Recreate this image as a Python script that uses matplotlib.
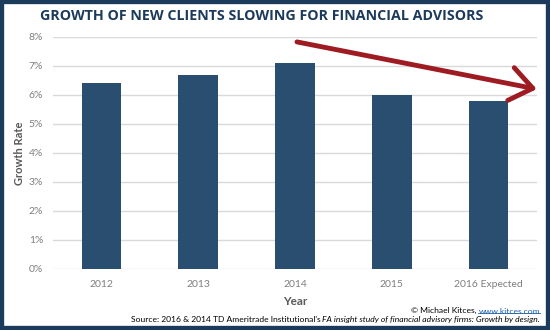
import matplotlib
matplotlib.use("Agg")
import matplotlib.pyplot as plt
from matplotlib.patches import Rectangle
from matplotlib.ticker import PercentFormatter

years = ["2012", "2013", "2014", "2015", "2016 Expected"]
growth = [6.4, 6.7, 7.1, 6.0, 5.8]
yticks = [0, 1, 2, 3, 4, 5, 6, 7, 8]

NAVY = "#1b3a5c"
BAR = "#2a4e70"
GRAY = "#7f7f7f"
RED = "#9e1b22"

plt.rcParams['font.family'] = ['Lato', 'DejaVu Sans']

fig = plt.figure(figsize=(5.5, 3.3), dpi=100)
ax = fig.add_axes([0.0964, 0.185, 0.880, 0.703])

x = list(range(len(years)))
ax.bar(x, growth, width=0.41, color=BAR, zorder=3)
ax.set_xlim(-0.5, len(years) - 0.5)
ax.set_ylim(0, 8)
ax.set_yticks(yticks)
ax.yaxis.set_major_formatter(PercentFormatter(decimals=0))
ax.set_xticks(x)
ax.set_xticklabels(years)
ax.tick_params(axis='both', length=0, labelsize=7.5, labelcolor=GRAY)
ax.tick_params(axis='x', pad=8)
ax.tick_params(axis='y', pad=7)
ax.grid(axis='y', color="#d9d9d9", lw=1, zorder=0)
for s in ax.spines.values():
    s.set_visible(False)

ax.set_ylabel("Growth Rate", fontsize=8, fontweight='bold', color="#595959", labelpad=3)
ax.set_xlabel("Year", fontsize=8.5, fontweight='bold', color="#595959", labelpad=5)

fig.text(0.475, 0.952, "GROWTH OF NEW CLIENTS SLOWING FOR FINANCIAL ADVISORS",
         ha='center', va='center', fontsize=10.3, fontweight='bold',
         color=NAVY, family=['Open Sans', 'DejaVu Sans'])

# trend arrow
ax.annotate("", xy=(0.976, 0.730), xycoords='figure fraction',
            xytext=(0.54, 0.873), textcoords='figure fraction',
            arrowprops=dict(arrowstyle="->, head_length=0.8, head_width=0.6",
                            mutation_scale=20, color=RED, lw=3.5,
                            shrinkA=0, shrinkB=0))

# credit lines, right aligned, built from right to left
c2 = fig.text(0.982, 0.024, "FA insight study of financial advisory firms: Growth by design.",
              ha='right', va='baseline', fontsize=6.1, style='italic', color='black')
ax.annotate("Source: 2016 & 2014 TD Ameritrade Institutional's ",
            xy=(0, 0), xycoords=c2, ha='right', va='bottom',
            fontsize=6.1, color='black', annotation_clip=False)
u = fig.text(0.982, 0.050, "www.kitces.com", ha='right', va='baseline',
             fontsize=6.1, color="#1f5fa8")
ax.annotate("© Michael Kitces, ", xy=(0, 0), xycoords=u, ha='right', va='bottom',
            fontsize=6.1, color='black', annotation_clip=False)

fig.canvas.draw()
bb = u.get_window_extent().transformed(fig.transFigure.inverted())
fig.add_artist(plt.Line2D([bb.x0, bb.x1], [bb.y0 + 0.004, bb.y0 + 0.004],
                          transform=fig.transFigure, color="#1f5fa8", lw=0.6))

fig.add_artist(Rectangle((0, 0), 1, 1, transform=fig.transFigure, fill=False,
                         edgecolor=NAVY, lw=6, clip_on=False))

fig.savefig("out.png", dpi=100)
